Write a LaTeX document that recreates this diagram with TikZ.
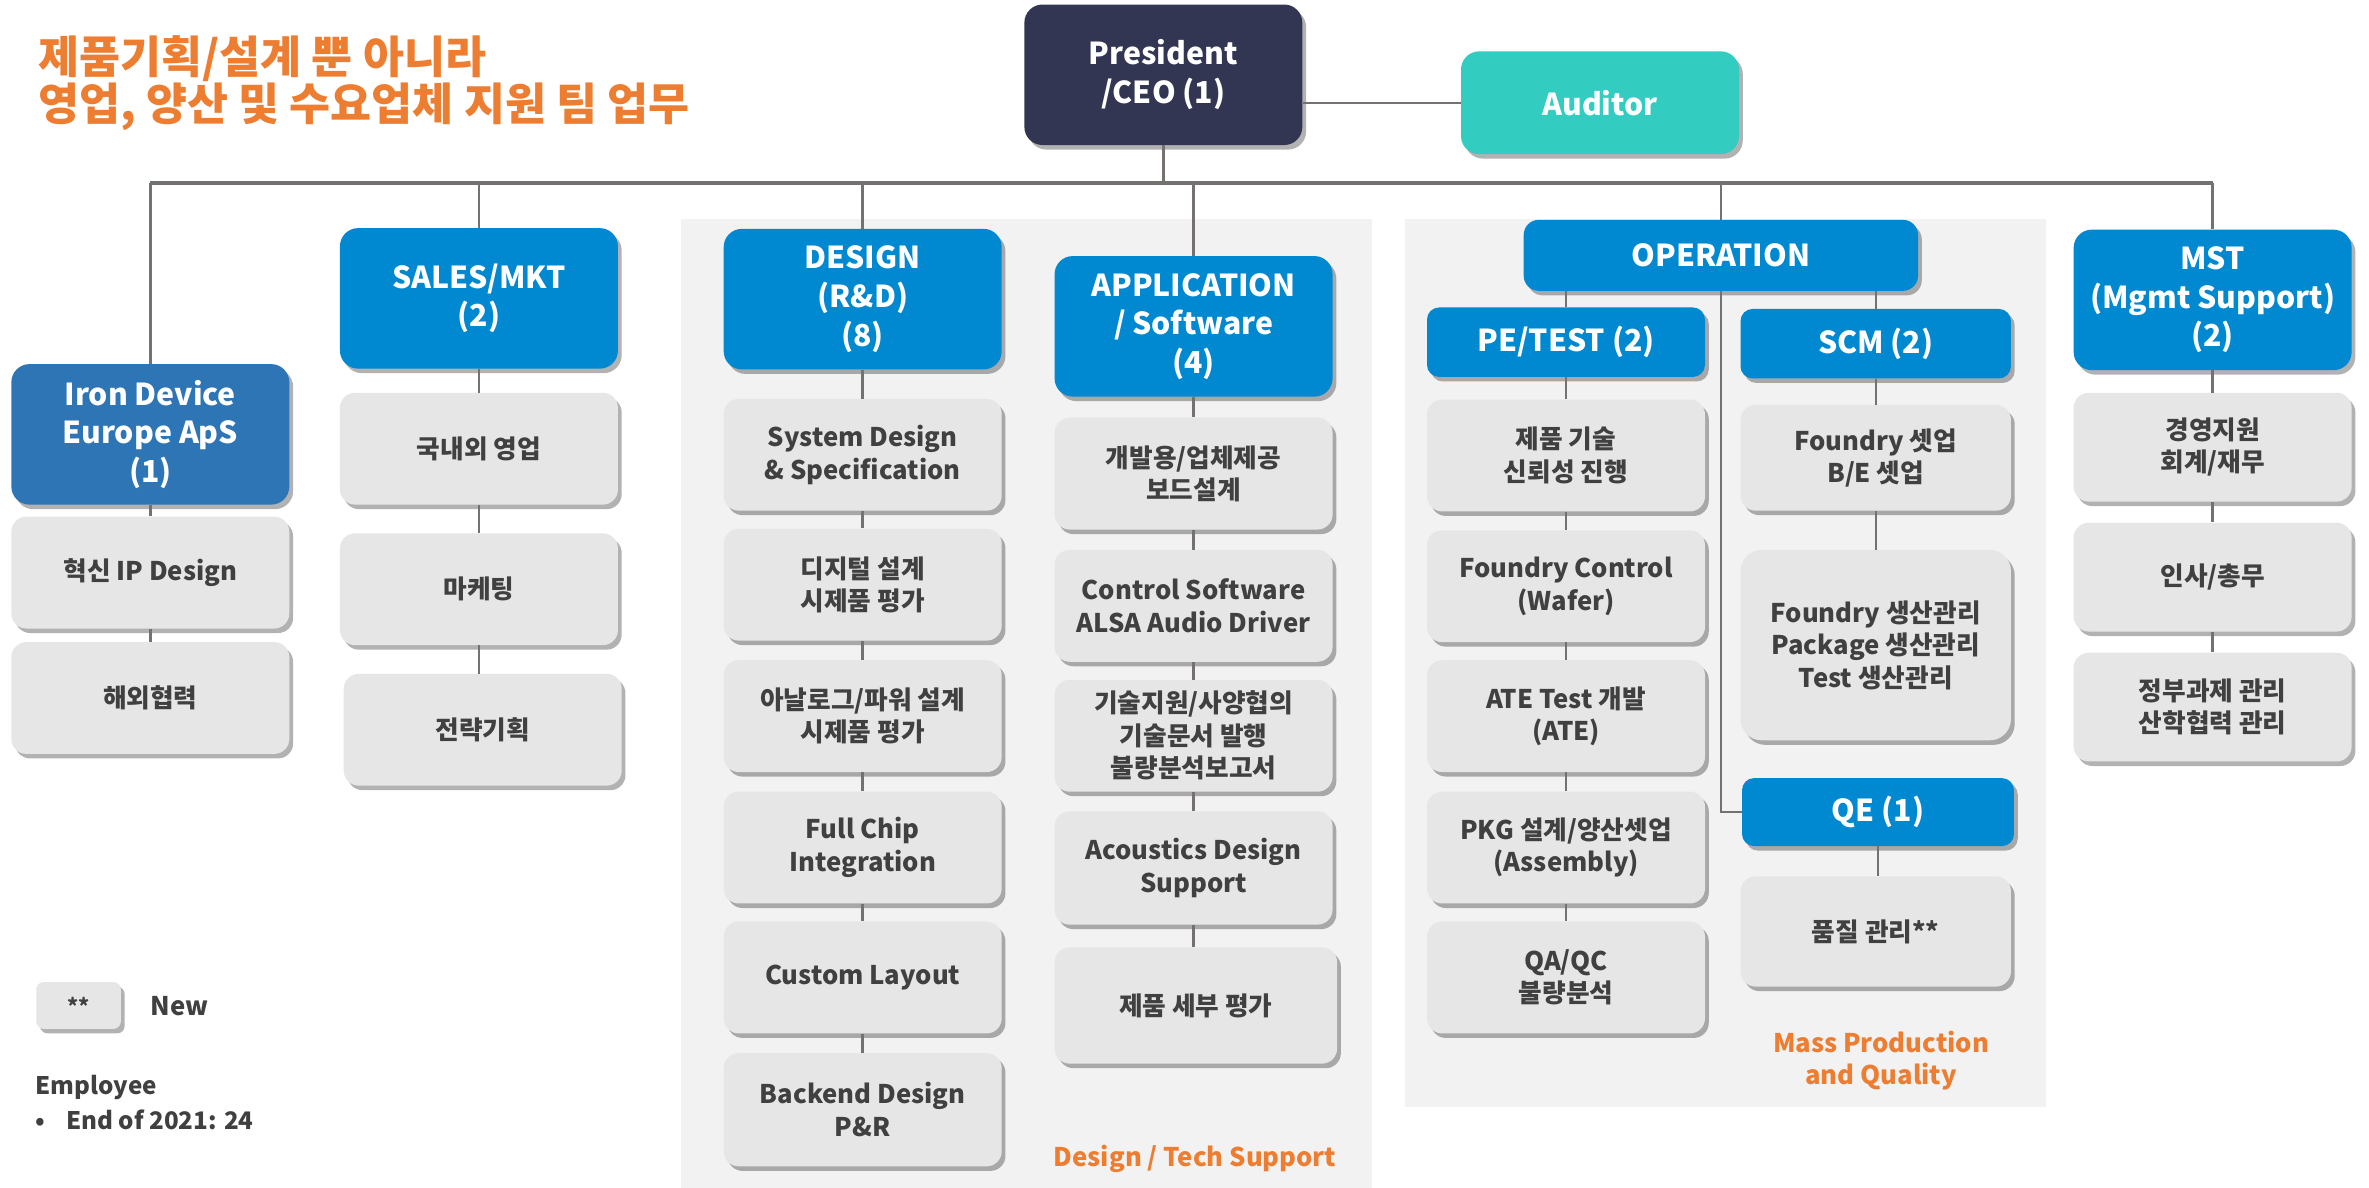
\documentclass[tikz,border=0pt]{standalone}
\usepackage{fontspec}
\setmainfont{Noto Sans CJK KR}
\usepackage{tikz}
\usetikzlibrary{shadows}
\definecolor{ceoback}{RGB}{51,54,82}
\definecolor{auditback}{RGB}{51,204,192}
\definecolor{teamback}{RGB}{0,136,208}
\definecolor{europeback}{RGB}{46,117,182}
\definecolor{taskback}{RGB}{231,230,230}
\definecolor{panelback}{RGB}{242,242,242}
\definecolor{linegray}{RGB}{118,113,113}
\definecolor{tasktext}{RGB}{64,64,64}
\definecolor{noteorange}{RGB}{237,125,49}

\begin{document}
\begin{tikzpicture}[x=1pt,y=-1pt,
  boxshadow/.style={drop shadow={shadow xshift=2.5pt,shadow yshift=-3pt,opacity=0.3,fill=black}},
  teambox/.style={fill=teamback,text=white,rounded corners=12pt,minimum width=184pt,minimum height=93pt,
    inner sep=2pt,align=center,font=\fontsize{20}{25.5}\selectfont\bfseries,boxshadow},
  taskbox/.style={fill=taskback,text=tasktext,rounded corners=10pt,minimum width=184pt,minimum height=74pt,
    inner sep=2pt,align=center,font=\fontsize{17}{21.5}\selectfont\bfseries,boxshadow},
  conn/.style={draw=linegray,line width=1.6pt},
  busline/.style={draw=linegray,line width=3pt},
  note/.style={text=noteorange,align=center,font=\fontsize{17}{21.5}\selectfont\bfseries}]
\useasboundingbox (0,0) rectangle (1568,786);
\fill [white] (0,0) rectangle (1568,786);
\fill [panelback] (451,145) rectangle (908,786);
\fill [panelback] (930,145) rectangle (1354,733);

\node [anchor=west,text=noteorange,align=left,font=\fontsize{29.5}{31}\selectfont\bfseries] (title) at (22,55)
  {제품기획/설계 뿐 아니라\\영업, 양산 및 수요업체 지원 팀 업무};

\node [teambox,fill=ceoback] (ceo) at (770,49.5) {President\\/CEO (1)};
\node [teambox,fill=auditback,minimum height=68pt] (aud) at (1059,68) {Auditor};

\node [teambox,fill=europeback] (ird) at (99.5,287.5) {Iron Device\\Europe ApS\\(1)};
\node [taskbox] (ird1) at (99.5,379) {혁신 IP Design};
\node [taskbox] (ird2) at (99.5,462) {해외협력};

\node [teambox] (sales) at (317,197.5) {SALES/MKT\\(2)};
\node [taskbox] (sales1) at (317,297) {국내외 영업};
\node [taskbox] (sales2) at (317,390) {마케팅};
\node [taskbox] (sales3) at (319.5,483) {전략기획};

\node [teambox] (design) at (571,198) {DESIGN\\(R\&D)\\(8)};
\node [taskbox] (d1) at (571,301) {System Design\\\& Specification};
\node [taskbox] (d2) at (571,387) {디지털 설계\\시제품 평가};
\node [taskbox] (d3) at (571,474) {아날로그/파워 설계\\시제품 평가};
\node [taskbox] (d4) at (571,561) {Full Chip\\Integration};
\node [taskbox] (d5) at (571,647) {Custom Layout};
\node [taskbox,minimum height=75pt] (d6) at (571,734.5) {Backend Design\\P\&R};

\node [teambox] (app) at (790,216) {APPLICATION\\/ Software\\(4)};
\node [taskbox] (a1) at (790,313.5) {개발용/업체제공\\보드설계};
\node [taskbox] (a2) at (790,401) {Control Software\\ALSA Audio Driver};
\node [taskbox] (a3) at (790,487) {기술지원/사양협의\\기술문서 발행\\불량분석보고서};
\node [taskbox,minimum height=75pt] (a4) at (790,574.5) {Acoustics Design\\Support};
\node [taskbox,minimum width=187pt,minimum height=77pt] (a5) at (791.5,665.5) {제품 세부 평가};
\node [note] (dts) at (791,767) {Design / Tech Support};

\node [teambox,minimum width=261pt,minimum height=47pt,rounded corners=10pt] (op) at (1139,169) {OPERATION};
\node [teambox,minimum height=46pt,rounded corners=8pt] (pe) at (1036.5,226.5) {PE/TEST (2)};
\node [teambox,minimum width=179pt,minimum height=46pt,rounded corners=8pt] (scm) at (1241.5,227.5) {SCM (2)};
\node [taskbox] (p1) at (1036.5,301.5) {제품 기술\\신뢰성 진행};
\node [taskbox] (p2) at (1036.5,388) {Foundry Control\\(Wafer)};
\node [taskbox] (p3) at (1036.5,474) {ATE Test 개발\\(ATE)};
\node [taskbox] (p4) at (1036.5,561) {PKG 설계/양산셋업\\(Assembly)};
\node [taskbox] (p5) at (1036.5,647) {QA/QC\\불량분석};
\node [taskbox,minimum width=179pt,minimum height=70pt] (c1) at (1241.5,303) {Foundry 셋업\\B/E 셋업};
\node [taskbox,minimum width=179pt,minimum height=126pt,rounded corners=14pt] (c2) at (1241.5,427)
  {Foundry 생산관리\\Package 생산관리\\Test 생산관리};
\node [teambox,minimum width=180pt,minimum height=45pt,rounded corners=8pt] (qe) at (1243,537.5) {QE (1)};
\node [taskbox,minimum width=179pt,minimum height=73pt] (c3) at (1241.5,616.5) {품질 관리**};
\node [note] (mpq) at (1245,702) {Mass Production\\and Quality};

\node [teambox] (mst) at (1464.5,198.5) {MST\\(Mgmt Support)\\(2)};
\node [taskbox,minimum height=72pt] (m1) at (1464.5,296) {경영지원\\회계/재무};
\node [taskbox,minimum height=72pt] (m2) at (1464.5,382) {인사/총무};
\node [taskbox,minimum height=72pt] (m3) at (1464.5,468) {정부과제 관리\\산학협력 관리};

\node [taskbox,minimum width=56pt,minimum height=31pt,rounded corners=5pt,font=\fontsize{14}{16}\selectfont\bfseries] (newbox) at (52,665.5) {**};
\node [anchor=west,text=tasktext,font=\fontsize{17}{21}\selectfont\bfseries] (newlbl) at (96,666) {New};
\node [anchor=north west,text=tasktext,align=left,font=\fontsize{16}{23}\selectfont\bfseries] (emp) at (20,708)
  {Employee\\•\hspace{14pt}End of 2021: 24};

\coordinate (bus) at (0,121);
\draw [busline] (ird.north |- bus) -- (mst.north |- bus);
\draw [conn] (ceo) -- (ceo |- bus);
\draw [conn] (aud) -- (aud -| ceo.east);
\foreach \t in {ird,sales,design,app,op,mst}
  \draw [conn] (\t) -- (\t |- bus);
\foreach \a/\b in {ird/ird1,ird1/ird2,sales/sales1,sales1/sales2,sales2/sales3,
    design/d1,d1/d2,d2/d3,d3/d4,d4/d5,d5/d6,app/a1,a1/a2,a2/a3,a3/a4,a4/a5,
    pe/p1,p1/p2,p2/p3,p3/p4,p4/p5,scm/c1,c1/c2,qe/c3,mst/m1,m1/m2,m2/m3}
  \draw [conn] (\a) -- (\a |- \b.north);
\draw [conn] (pe) -- (pe |- op.south);
\draw [conn] (scm) -- (scm |- op.south);
\draw [conn] (op) |- (qe);
\end{tikzpicture}
\end{document}
